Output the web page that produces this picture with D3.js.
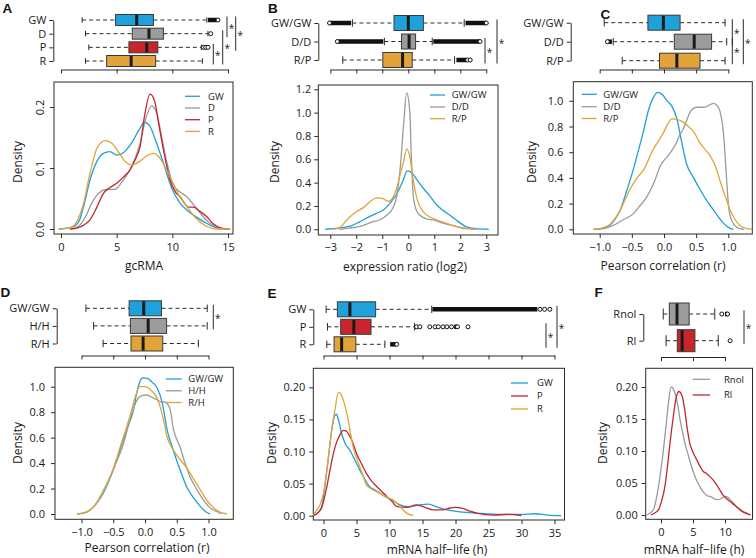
<!DOCTYPE html>
<html><head><meta charset="utf-8">
<script src="https://cdn.jsdelivr.net/npm/d3@7"></script>
<style>
body{margin:0;background:#fff;}
svg{display:block;font-family:"Open Sans",sans-serif;}
</style></head><body>
<svg id="c" width="756" height="558"></svg>
<script>
// ---------------- DATA ----------------
// Panel A
const catsA = ["GW","D","P","R"];
const boxA = [[1.9,4.9,6.8,8.3,13.1],[2.2,6.4,7.9,9.2,13.2],[2.5,6.1,7.7,8.7,12.6],[2.2,4.1,6.3,8.5,12.7]];
const outA = [[14.1],[13.45],[12.8,13.0,13.2],[]];
const denseA = [[[13.2,14.0]],null,null,null];
const ticksA = [0,5,10,15];
const yTicksA = [0,0.1,0.2];
const densA_GW = [[-0.2,0],[1.0,0.003],[1.6,0.012],[2.0,0.035],[2.6,0.08],[3.2,0.11],[3.8,0.124],[4.4,0.127],[5.0,0.121],[5.6,0.125],[6.3,0.14],[7.0,0.162],[7.5,0.175],[8.0,0.168],[8.5,0.145],[9.2,0.108],[9.95,0.067],[10.6,0.045],[11.3,0.031],[12.2,0.019],[13.1,0.009],[14.0,0.002],[15.2,0]];
const densA_D = [[0.9,0],[1.6,0.005],[2.2,0.02],[2.7,0.04],[3.2,0.055],[3.7,0.063],[4.1,0.065],[4.85,0.065],[5.5,0.078],[6.2,0.097],[7.1,0.14],[7.6,0.18],[8.15,0.202],[8.6,0.19],[9.0,0.155],[9.5,0.11],[10.1,0.072],[10.6,0.062],[11.3,0.053],[11.9,0.04],[12.5,0.026],[13.2,0.012],[13.9,0.004],[15.0,0]];
const densA_P = [[0.8,0],[1.5,0.002],[2.0,0.006],[2.6,0.015],[3.2,0.035],[3.8,0.058],[4.4,0.068],[5.0,0.075],[5.6,0.085],[6.2,0.097],[6.7,0.115],[7.1,0.135],[7.5,0.185],[8.0,0.221],[8.4,0.21],[8.8,0.17],[9.2,0.13],[9.8,0.08],[10.3,0.06],[10.7,0.053],[11.1,0.042],[11.4,0.036],[11.9,0.036],[12.4,0.03],[13.1,0.02],[13.7,0.008],[14.3,0.002],[15.0,0]];
const densA_R = [[-0.2,0],[0.8,0.002],[1.5,0.015],[2.0,0.04],[2.6,0.091],[3.3,0.135],[4.0,0.145],[4.6,0.14],[5.2,0.125],[5.8,0.11],[6.35,0.105],[7.0,0.11],[7.7,0.12],[8.3,0.124],[8.8,0.118],[9.4,0.1],[9.95,0.08],[10.6,0.055],[11.3,0.037],[12.0,0.02],[13.0,0.005],[14.0,0],[15.2,0]];

// Panel B
const catsB = ["GW/GW","D/D","R/P"];
const boxB = [[-2.15,-0.55,0.0,0.58,2.15],[-0.92,-0.26,0.03,0.28,0.92],[-2.52,-0.98,-0.22,0.15,1.78]];
const outB = [[-3.03,3.0],[-2.73,2.76],[2.28,2.38]];
const denseB = [[[-3.03,-2.2],[2.2,3.0]],[[-2.73,-0.96],[0.96,2.76]],[[1.85,2.25]]];
const ticksB = [-3,-2,-1,0,1,2,3];
const yTicksB = [0,0.2,0.4,0.6,0.8,1.0,1.2];
const densB_GW = [[-3.2,0],[-2.7,0.01],[-2.2,0.03],[-1.9,0.06],[-1.57,0.1],[-1.25,0.135],[-0.96,0.165],[-0.7,0.225],[-0.45,0.3],[-0.2,0.42],[-0.04,0.50],[0.15,0.48],[0.35,0.42],[0.58,0.35],[0.85,0.28],[1.09,0.21],[1.35,0.16],[1.6,0.12],[1.9,0.07],[2.24,0.02],[2.6,0.005],[3.1,0]];
const densB_D = [[-2.65,0],[-2.3,0.01],[-1.86,0.025],[-1.6,0.045],[-1.35,0.065],[-1.1,0.08],[-0.83,0.12],[-0.6,0.18],[-0.45,0.28],[-0.3,0.55],[-0.18,0.9],[-0.06,1.17],[0.06,1.0],[0.12,0.6],[0.19,0.29],[0.3,0.17],[0.45,0.12],[0.7,0.09],[0.96,0.08],[1.3,0.055],[1.6,0.037],[1.9,0.02],[2.2,0.005],[2.6,0]];
const densB_R = [[-2.9,0],[-2.6,0.02],[-2.37,0.08],[-2.0,0.15],[-1.7,0.19],[-1.45,0.24],[-1.22,0.27],[-1.0,0.265],[-0.77,0.24],[-0.6,0.27],[-0.45,0.35],[-0.3,0.48],[-0.19,0.57],[-0.06,0.69],[0.06,0.62],[0.19,0.42],[0.35,0.25],[0.58,0.15],[0.8,0.11],[1.09,0.08],[1.35,0.06],[1.6,0.04],[2.2,0.01],[2.6,0]];

// Panel C
const catsC = ["GW/GW","D/D","R/P"];
const boxC = [[-0.93,-0.25,-0.01,0.25,0.95],[-0.79,0.16,0.47,0.74,0.975],[-0.65,-0.07,0.2,0.56,0.95]];
const outC = [[],[-0.88],[]];
const denseC = [null,[[-0.88,-0.81]],null];
const ticksC = [-1,-0.5,0,0.5,1];
const yTicksC = [0,0.2,0.4,0.6,0.8,1.0];
const densC_GW = [[-1.1,0],[-0.95,0.01],[-0.84,0.033],[-0.76,0.08],[-0.68,0.15],[-0.58,0.3],[-0.48,0.46],[-0.4,0.61],[-0.32,0.76],[-0.24,0.93],[-0.16,1.03],[-0.1,1.065],[-0.03,1.05],[0.05,1.0],[0.12,0.96],[0.2,0.86],[0.275,0.68],[0.35,0.51],[0.45,0.41],[0.56,0.31],[0.67,0.22],[0.77,0.15],[0.92,0.05],[1.0,0.015],[1.08,0]];
const densC_D = [[-1.05,0],[-0.9,0.01],[-0.79,0.03],[-0.65,0.07],[-0.48,0.12],[-0.38,0.18],[-0.27,0.25],[-0.15,0.37],[-0.06,0.49],[0.09,0.59],[0.18,0.66],[0.25,0.74],[0.3,0.78],[0.37,0.87],[0.43,0.93],[0.51,0.95],[0.6,0.95],[0.66,0.955],[0.77,0.98],[0.83,0.96],[0.87,0.92],[0.92,0.77],[0.95,0.58],[0.975,0.38],[1.0,0.2],[1.03,0.1],[1.1,0.03],[1.18,0.005],[1.25,0]];
const densC_R = [[-1.1,0],[-0.95,0.01],[-0.84,0.04],[-0.7,0.13],[-0.53,0.31],[-0.42,0.4],[-0.32,0.46],[-0.17,0.62],[-0.01,0.75],[0.06,0.82],[0.12,0.86],[0.2,0.855],[0.28,0.84],[0.38,0.8],[0.46,0.76],[0.56,0.67],[0.72,0.57],[0.8,0.49],[0.87,0.38],[0.95,0.26],[1.03,0.15],[1.1,0.08],[1.18,0.03],[1.3,0.005],[1.45,0]];

// Panel D
const catsD = ["GW/GW","H/H","R/H"];
const boxD = [[-0.93,-0.25,-0.02,0.26,0.98],[-0.81,-0.23,0.05,0.34,0.98],[-0.66,-0.22,-0.03,0.28,0.84]];
const ticksD = [-1,-0.5,0,0.5,1];
const yTicksD = [0,0.2,0.4,0.6,0.8,1.0];
const densD_GW = [[-1.07,0],[-0.95,0.01],[-0.87,0.03],[-0.77,0.08],[-0.66,0.16],[-0.55,0.28],[-0.45,0.42],[-0.37,0.54],[-0.29,0.66],[-0.18,0.82],[-0.13,0.95],[-0.08,1.04],[-0.03,1.07],[0.04,1.065],[0.1,1.04],[0.18,1.0],[0.24,0.93],[0.3,0.8],[0.34,0.68],[0.42,0.54],[0.5,0.42],[0.58,0.31],[0.66,0.21],[0.76,0.13],[0.87,0.06],[0.95,0.02],[1.03,0]];
const densD_H = [[-1.0,0],[-0.9,0.02],[-0.8,0.06],[-0.68,0.16],[-0.55,0.29],[-0.44,0.42],[-0.34,0.55],[-0.27,0.68],[-0.2,0.8],[-0.13,0.89],[-0.05,0.93],[0.02,0.935],[0.1,0.92],[0.18,0.9],[0.26,0.88],[0.31,0.88],[0.39,0.83],[0.45,0.66],[0.55,0.53],[0.63,0.4],[0.71,0.29],[0.82,0.19],[0.92,0.11],[1.02,0.05],[1.13,0.02],[1.2,0]];
const densD_R = [[-1.07,0],[-0.95,0.01],[-0.87,0.03],[-0.77,0.08],[-0.66,0.17],[-0.55,0.29],[-0.45,0.43],[-0.37,0.56],[-0.29,0.68],[-0.21,0.82],[-0.14,0.94],[-0.08,1.0],[0.0,1.0],[0.1,0.97],[0.18,0.92],[0.24,0.84],[0.3,0.72],[0.34,0.62],[0.45,0.5],[0.55,0.43],[0.66,0.36],[0.76,0.28],[0.87,0.19],[0.97,0.11],[1.08,0.05],[1.18,0.015],[1.29,0]];

// Panel E
const catsE = ["GW","P","R"];
const boxE = [[0.4,2.1,4.0,7.9,16.4],[0.6,2.6,4.6,7.2,13.8],[0.5,1.6,2.75,4.9,9.3]];
const outE = [[32.8,33.5,34.3],[14.1,14.6,16.1,16.9,17.4,18.1,18.7,19.4,20.3,21.9],[11.1]];
const denseE = [[[16.5,32.4]],[[19.8,20.3]],[[10.1,11.0]]];
const ticksE = [0,5,10,15,20,25,30,35];
const yTicksE = [0,0.05,0.10,0.15,0.20];
const densE_GW = [[-1.5,0],[-0.9,0.004],[-0.3,0.012],[0.2,0.045],[0.7,0.087],[1.2,0.13],[1.74,0.157],[1.95,0.158],[2.3,0.148],[2.75,0.128],[3.3,0.112],[4.0,0.102],[4.7,0.088],[5.5,0.071],[6.2,0.058],[7.0,0.045],[7.8,0.04],[8.6,0.035],[9.3,0.03],[10.1,0.026],[11.6,0.017],[13.1,0.014],[14.6,0.017],[15.9,0.018],[17.1,0.014],[18.7,0.009],[20.7,0.006],[23.2,0.004],[27,0.002],[30,0.002],[32,0.003],[34,0.001],[36,0]];
const densE_P = [[-1.5,0],[-0.8,0.005],[-0.2,0.015],[0.5,0.045],[1.0,0.072],[1.5,0.097],[2.0,0.115],[2.5,0.126],[3.0,0.133],[3.4,0.132],[3.76,0.128],[4.4,0.115],[5.0,0.097],[5.7,0.082],[6.5,0.066],[7.3,0.054],[8.1,0.045],[9.6,0.03],[10.4,0.022],[11.1,0.014],[12.6,0.013],[14.1,0.017],[15.4,0.013],[16.6,0.009],[18.0,0.009],[19.2,0.012],[19.9,0.013],[21.2,0.011],[22.2,0.007],[23.2,0.004],[25.8,0.001],[28,0.002],[30,0]];
const densE_R = [[-1.6,0],[-1.0,0.009],[-0.5,0.018],[0,0.035],[0.5,0.07],[1.0,0.113],[1.4,0.145],[1.74,0.165],[2.25,0.192],[2.6,0.19],[3.0,0.18],[3.4,0.165],[3.76,0.149],[4.1,0.128],[4.5,0.107],[5.0,0.09],[5.5,0.076],[6.0,0.062],[6.5,0.048],[7.2,0.042],[8.1,0.037],[9.6,0.029],[10.6,0.024],[11.6,0.014],[12.6,0.004],[13.6,0]];

// Panel F
const catsF = ["Rnol","Rl"];
const boxF = [[0.35,1.3,2.5,4.4,8.4],[0.8,2.55,3.3,5.3,8.95]];
const outF = [[9.5,10.4],[10.8]];
const denseF = [[[10.0,10.45]],null];
const ticksF = [0,5,10];
const yTicksF = [0,0.05,0.10,0.15,0.20];
const densF_Rnol = [[-2.2,0],[-1.2,0.008],[-0.4,0.044],[0.36,0.10],[0.8,0.14],[1.1,0.17],[1.6,0.2],[2.1,0.193],[2.5,0.178],[3.0,0.148],[3.4,0.128],[3.75,0.112],[4.3,0.092],[4.8,0.075],[5.4,0.058],[6.1,0.044],[6.6,0.036],[7.1,0.031],[7.9,0.028],[8.7,0.024],[9.3,0.025],[10.0,0.029],[10.4,0.028],[10.8,0.024],[11.3,0.019],[11.8,0.013],[12.6,0.007],[13.4,0.003],[14,0]];
const densF_Rl = [[-1.6,0],[-1.0,0.003],[-0.4,0.008],[0.1,0.022],[0.6,0.044],[1.0,0.075],[1.4,0.112],[1.9,0.152],[2.3,0.18],[2.8,0.193],[3.3,0.186],[3.7,0.165],[4.1,0.135],[4.5,0.112],[5.0,0.098],[5.6,0.086],[6.1,0.076],[6.6,0.068],[7.1,0.065],[7.65,0.06],[8.2,0.054],[8.7,0.047],[9.2,0.039],[9.7,0.031],[10.3,0.025],[10.8,0.021],[11.3,0.017],[11.8,0.013],[12.6,0.006],[13.4,0.002],[14,0]];

// ---------------- STYLE ----------------
const COL = {blue:"#1fa2dc", gray:"#9c9c9e", red:"#c9252c", gold:"#e2a43a"};
const LINE = {blue:"#1e9fd9", gray:"#9a9a9a", red:"#c0272d", gold:"#dfa43a"};
const INK = "#2a2a2a";

const svg = d3.select("#c");
let clipId = 0;

function styleAxis(g, fs){
  g.selectAll("path,line").attr("stroke", INK).attr("stroke-width",1);
  g.selectAll("text").attr("fill","#1a1a1a").attr("font-size",(fs||11)+"px").attr("font-family","'Open Sans',sans-serif");
}

function boxPanel(o){
  const g = svg.append("g");
  const yS = d3.scalePoint().domain(o.cats).range([o.rows[0], o.rows[1]]);
  const ca = g.append("g").attr("transform",`translate(${o.catX},0)`)
    .call(d3.axisLeft(yS).tickSize(4).tickSizeOuter(0).tickPadding(3));
  styleAxis(ca, 11);
  const va = g.append("g").attr("transform",`translate(0,${o.axisY})`)
    .call(d3.axisBottom(o.x).tickValues(o.ticks).tickSize(4).tickSizeOuter(0).tickFormat(""));
  styleAxis(va);
  const h = o.boxH;
  o.cats.forEach((c,i)=>{
    const [lo,q1,md,q3,hi] = o.stats[i];
    const y = yS(c);
    [[lo,q1],[q3,hi]].forEach(([a,b])=>{
      g.append("line").attr("x1",o.x(a)).attr("x2",o.x(b)).attr("y1",y).attr("y2",y)
        .attr("stroke",INK).attr("stroke-width",1).attr("stroke-dasharray","4,3");
    });
    [lo,hi].forEach(v=>{
      g.append("line").attr("x1",o.x(v)).attr("x2",o.x(v)).attr("y1",y-h/4).attr("y2",y+h/4)
        .attr("stroke",INK).attr("stroke-width",1);
    });
    const dn = o.dense ? o.dense[i] : null;
    if(dn){
      dn.forEach(([a,b])=>{
        g.append("line").attr("x1",o.x(a)).attr("x2",o.x(b)).attr("y1",y).attr("y2",y)
          .attr("stroke","#111").attr("stroke-width",4.5);
      });
    }
    if(o.out){
      o.out[i].forEach(v=>{
        g.append("circle").attr("cx",o.x(v)).attr("cy",y).attr("r",2)
          .attr("fill","#fff").attr("stroke","#111").attr("stroke-width",1);
      });
    }
    g.append("rect").attr("x",o.x(q1)).attr("y",y-h/2).attr("width",o.x(q3)-o.x(q1)).attr("height",h)
      .attr("fill",COL[o.colors[i]]).attr("stroke","#3a3a3a").attr("stroke-width",1);
    g.append("line").attr("x1",o.x(md)).attr("x2",o.x(md)).attr("y1",y-h/2+0.5).attr("y2",y+h/2-0.5)
      .attr("stroke","#1a1a1a").attr("stroke-width",3);
  });
  (o.sig||[]).forEach(([i,j,x])=>{
    const y1 = yS(o.cats[i])-3.5, y2 = yS(o.cats[j])+3.5;
    g.append("line").attr("x1",x).attr("x2",x).attr("y1",y1).attr("y2",y2).attr("stroke",INK).attr("stroke-width",1);
    g.append("text").attr("x",x+4.5).attr("y",(y1+y2)/2+5).attr("text-anchor","middle")
      .attr("font-size","10px").attr("fill","#1a1a1a").text("*");
  });
}

function densPanel(o){
  const g = svg.append("g");
  const f = o.frame;
  const id = "clip"+(clipId++);
  svg.append("clipPath").attr("id",id).append("rect")
    .attr("x",f[0]).attr("y",f[2]).attr("width",f[1]-f[0]).attr("height",f[3]-f[2]);
  const xa = g.append("g").attr("transform",`translate(0,${f[3]})`)
    .call(d3.axisBottom(o.x).tickValues(o.xticks).tickSize(4).tickPadding(o.xpad||5).tickFormat(o.xfmt));
  xa.select(".domain").remove();
  styleAxis(xa, 11);
  const ya = g.append("g").attr("transform",`translate(${f[0]},0)`)
    .call(d3.axisLeft(o.y).tickValues(o.yticks).tickSize(4).tickPadding(o.ypad||3).tickFormat(o.yfmt));
  ya.select(".domain").remove();
  styleAxis(ya, 11);
  if(o.rotY){
    ya.selectAll(".tick text").attr("transform","rotate(-90)").attr("text-anchor","middle")
      .attr("x",0).attr("dy",0).attr("y",-10);
  }
  g.append("rect").attr("x",f[0]).attr("y",f[2]).attr("width",f[1]-f[0]).attr("height",f[3]-f[2])
    .attr("fill","none").attr("stroke",INK).attr("stroke-width",1);
  const ln = d3.line().x(d=>o.x(d[0])).y(d=>o.y(d[1])).curve(d3.curveMonotoneX);
  const lg = g.append("g").attr("clip-path",`url(#${id})`);
  o.series.forEach(s=>{
    lg.append("path").attr("d",ln(s.data)).attr("fill","none").attr("stroke",LINE[s.color]).attr("stroke-width",1.3);
  });
  const L = o.legend;
  L.order.forEach((k,i)=>{
    const s = o.series[k];
    const yy = L.ys[i];
    g.append("line").attr("x1",L.x1).attr("x2",L.x2).attr("y1",yy).attr("y2",yy).attr("stroke",LINE[s.color]).attr("stroke-width",1.3);
    g.append("text").attr("x",L.tx).attr("y",yy+3.4).attr("font-size","9.5px").attr("fill","#1a1a1a").text(s.name);
  });
  g.append("text").attr("transform",`translate(${o.ylab[0]},${o.ylab[1]}) rotate(-90)`).attr("text-anchor","middle")
    .attr("font-size","12px").attr("fill","#1a1a1a").text("Density");
  g.append("text").attr("x",o.xlab[0]).attr("y",o.xlab[1]).attr("text-anchor","middle")
    .attr("font-size","12px").attr("fill","#1a1a1a").text(o.xtitle);
}

function letter(t,x,y){
  svg.append("text").attr("x",x).attr("y",y).attr("font-family","'Liberation Sans',Arial,sans-serif")
    .attr("font-weight","bold").attr("font-size","13.5px").attr("fill","#111").text(t);
}

const f1 = d3.format(".1f"), f2 = d3.format(".2f"), f0 = d3.format("d");

// ---------------- PANEL A ----------------
const xA = d3.scaleLinear().domain([0,15]).range([61,228]);
letter("A",2.5,12.7);
boxPanel({cats:catsA, stats:boxA, out:outA, dense:denseA, x:xA, rows:[20,61], boxH:11, axisY:69.5,
  ticks:ticksA, catX:53.3, colors:["blue","gray","red","gold"],
  sig:[[0,1,227],[0,2,235.7],[2,3,213.3],[1,3,222.7]]});
densPanel({x:xA, y:d3.scaleLinear().domain([0,0.2]).range([229,107]), frame:[54,233,82,234],
  xticks:ticksA, yticks:yTicksA, xfmt:f0, yfmt:f1, rotY:true,
  series:[{name:"GW",data:densA_GW,color:"blue"},{name:"D",data:densA_D,color:"gray"},{name:"P",data:densA_P,color:"red"},{name:"R",data:densA_R,color:"gold"}],
  legend:{x1:185,x2:200,tx:208,ys:[96.3,108,119.7,131.4],order:[0,1,2,3]},
  ylab:[22,162], xlab:[144,269.5], xtitle:"gcRMA"});

// ---------------- PANEL B ----------------
const xB = d3.scaleLinear().domain([-3,3]).range([330.3,486.3]);
letter("B",268,13);
boxPanel({cats:catsB, stats:boxB, out:outB, dense:denseB, x:xB, rows:[23,60], boxH:15, axisY:69.5,
  ticks:ticksB, catX:318.3, colors:["blue","gray","gold"], sig:[[1,2,485],[0,2,497]]});
densPanel({x:xB, y:d3.scaleLinear().domain([0,1.2]).range([229.3,89.3]), frame:[318.3,498,85,235],
  xticks:ticksB, yticks:yTicksB, xfmt:f0, yfmt:f1, xpad:4,
  series:[{name:"GW/GW",data:densB_GW,color:"blue"},{name:"D/D",data:densB_D,color:"gray"},{name:"R/P",data:densB_R,color:"gold"}],
  legend:{x1:430,x2:445,tx:451.7,ys:[95,107,118.7],order:[0,1,2]},
  ylab:[279,162], xlab:[405,270.5], xtitle:"expression ratio (log2)"});

// ---------------- PANEL C ----------------
const xC = d3.scaleLinear().domain([-1,1]).range([599.7,728.3]);
letter("C",600.5,19);
boxPanel({cats:catsC, stats:boxC, out:outC, dense:denseC, x:xC, rows:[22.7,60.7], boxH:15, axisY:69.5,
  ticks:ticksC, catX:570.7, colors:["blue","gray","gold"], sig:[[0,1,732.3],[1,2,732.3],[0,2,743.3]]});
densPanel({x:xC, y:d3.scaleLinear().domain([0,1]).range([229.3,100.8]), frame:[573.3,752.3,81.7,234],
  xticks:ticksC, yticks:yTicksC, xfmt:f1, yfmt:f1, ypad:6,
  series:[{name:"GW/GW",data:densC_GW,color:"blue"},{name:"D/D",data:densC_D,color:"gray"},{name:"R/P",data:densC_R,color:"gold"}],
  legend:{x1:581.7,x2:596.7,tx:603.3,ys:[94.3,106.7,118.5],order:[0,1,2]},
  ylab:[536,162], xlab:[663,269.5], xtitle:"Pearson correlation (r)"});

// ---------------- PANEL D ----------------
const xD = d3.scaleLinear().domain([-1,1]).range([81.5,208.5]);
letter("D",0.5,296.7);
boxPanel({cats:catsD, stats:boxD, x:xD, rows:[308.3,343.5], boxH:15, axisY:355.5,
  ticks:ticksD, catX:56.7, colors:["blue","gray","gold"], sig:[[0,1,213.3]]});
densPanel({x:xD, y:d3.scaleLinear().domain([0,1]).range([514,386.7]), frame:[55,233.3,367.3,519.3],
  xticks:ticksD, yticks:yTicksD, xfmt:f1, yfmt:f1, ypad:6, xpad:5,
  series:[{name:"GW/GW",data:densD_GW,color:"blue"},{name:"H/H",data:densD_H,color:"gray"},{name:"R/H",data:densD_R,color:"gold"}],
  legend:{x1:165.7,x2:181.7,tx:188.3,ys:[379,390.8,402.5],order:[0,1,2]},
  ylab:[22,443], xlab:[147,551.5], xtitle:"Pearson correlation (r)"});

// ---------------- PANEL E ----------------
const xE = d3.scaleLinear().domain([0,35]).range([323.5,554.5]);
letter("E",267.5,298);
boxPanel({cats:catsE, stats:boxE, out:outE, dense:denseE, x:xE, rows:[309.3,344.3], boxH:15, axisY:355.5,
  ticks:ticksE, catX:313.3, colors:["blue","red","gold"], sig:[[1,2,546],[0,2,557]]});
densPanel({x:xE, y:d3.scaleLinear().domain([0,0.2]).range([515.7,387.3]), frame:[313.3,564.5,368.3,520],
  xticks:ticksE, yticks:yTicksE, xfmt:f0, yfmt:f2, ypad:4,
  series:[{name:"GW",data:densE_GW,color:"blue"},{name:"P",data:densE_P,color:"red"},{name:"R",data:densE_R,color:"gold"}],
  legend:{x1:511,x2:528,tx:537,ys:[383,396,409],order:[0,1,2]},
  ylab:[276,443], xlab:[437,553.5], xtitle:"mRNA half\u2212life (h)"});

// ---------------- PANEL F ----------------
const xF = d3.scaleLinear().domain([0,10]).range([661,725]);
letter("F",594.5,297);
boxPanel({cats:catsF, stats:boxF, out:outF, dense:denseF, x:xF, rows:[314,340.7], boxH:22, axisY:357,
  ticks:ticksF, catX:643.3, colors:["gray","red"], sig:[[0,1,744]]});
densPanel({x:xF, y:d3.scaleLinear().domain([0,0.2]).range([515,387]), frame:[645.7,752.5,368.3,519.3],
  xticks:ticksF, yticks:yTicksF, xfmt:f0, yfmt:f2, ypad:4,
  series:[{name:"Rnol",data:densF_Rnol,color:"gray"},{name:"Rl",data:densF_Rl,color:"red"}],
  legend:{x1:692.7,x2:710,tx:724,ys:[379.3,395],order:[0,1]},
  ylab:[607,443], xlab:[694,553.5], xtitle:"mRNA half\u2212life (h)"});
</script></body></html>
